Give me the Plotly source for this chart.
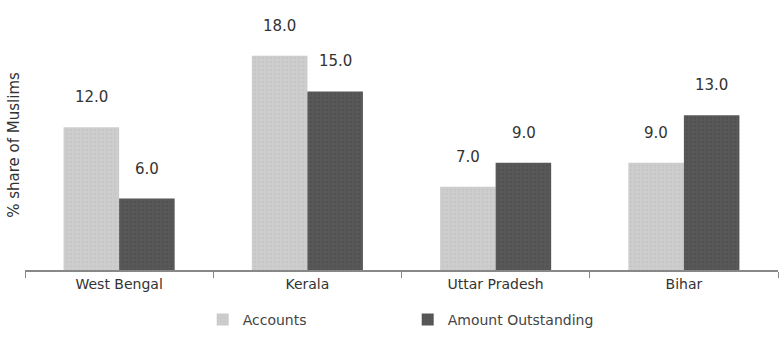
import plotly.graph_objects as go

states = ["West Bengal", "Kerala", "Uttar Pradesh", "Bihar"]
accounts = [12.0, 18.0, 7.0, 9.0]
amount_outstanding = [6.0, 15.0, 9.0, 13.0]

series_names = ["Accounts", "Amount Outstanding"]
light = "#cdcdcd"
dark = "#585858"
font_family = "DejaVu Sans, Verdana, sans-serif"

fig = go.Figure()
fig.add_trace(go.Bar(
    x=states, y=accounts, name=series_names[0],
    marker=dict(color=light, line=dict(width=0),
                pattern=dict(shape=".", fgcolor="#bdbdbd", bgcolor=light, size=4, solidity=0.3)),
))
fig.add_trace(go.Bar(
    x=states, y=amount_outstanding, name=series_names[1],
    marker=dict(color=dark, line=dict(width=0),
                pattern=dict(shape=".", fgcolor="#4a4a4a", bgcolor=dark, size=4, solidity=0.3)),
))

# value labels above each bar
annotations = []
for series, shift in ((accounts, -28), (amount_outstanding, 28)):
    for st, v in zip(states, series):
        annotations.append(dict(
            x=st, y=v, xref="x", yref="y", text=f"{v:.1f}", showarrow=False,
            xshift=shift, yshift=30, font=dict(size=15, color="#333", family=font_family),
        ))

fig.update_layout(
    width=781, height=360,
    margin=dict(l=25, r=3, t=20, b=90),
    paper_bgcolor="white", plot_bgcolor="white",
    barmode="group", bargap=0.41, bargroupgap=0.0,
    font=dict(family=font_family, size=14, color="#333"),
    annotations=annotations,
    showlegend=True,
    legend=dict(orientation="h", x=0.236, xanchor="left", y=-0.2, yanchor="middle",
                entrywidth=160, entrywidthmode="pixels",
                font=dict(size=14, color="#444")),
    xaxis=dict(showline=True, linecolor="#888", linewidth=1.5,
               ticks="outside", tickson="boundaries", ticklen=6, tickcolor="#888",
               tickfont=dict(size=14, color="#333"), showgrid=False),
    yaxis=dict(range=[0, 21], showticklabels=False, showgrid=False, zeroline=False,
               showline=False, ticks="",
               title=dict(text="% share of Muslims", standoff=0,
                          font=dict(size=15, color="#333"))),
)

fig.write_html("out.html")
